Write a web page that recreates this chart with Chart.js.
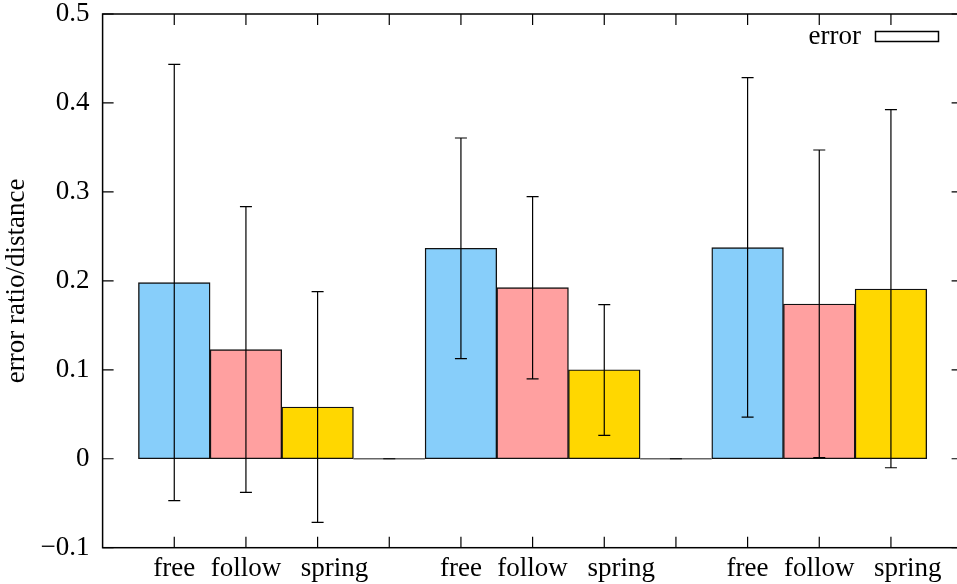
<!DOCTYPE html>
<html><head><meta charset="utf-8">
<script src="https://cdn.jsdelivr.net/npm/chart.js@4.4.0/dist/chart.umd.min.js"></script>
<style>html,body{margin:0;padding:0;overflow:hidden;background:#fff;width:957px;height:584px}canvas{display:block}</style>
</head><body><canvas id="c" width="966" height="584"></canvas>
<script>
// ---- data ----
const categories = ['free', 'follow', 'spring'];
const colorsByCategory = ['#87CEFA', '#FFA0A0', '#FFD700'];
const freeMean   = [0.198, 0.2366, 0.2373];
const freeLow    = [-0.0471, 0.1125, 0.0469];
const freeHigh   = [0.4434, 0.3606, 0.4284];
const followMean = [0.1226, 0.1923, 0.1740];
const followLow  = [-0.0378, 0.0897, 0.0012];
const followHigh = [0.2834, 0.2946, 0.3471];
const springMean = [0.0582, 0.1001, 0.1908];
const springLow  = [-0.0715, 0.0263, -0.0101];
const springHigh = [0.1878, 0.1732, 0.3924];
const yTickValues = [-0.1, 0, 0.1, 0.2, 0.3, 0.4, 0.5];
const yTickLabels = ['\u22120.1', '0', '0.1', '0.2', '0.3', '0.4', '0.5'];
const legendLabel = 'error';
const yTitle = 'error ratio/distance';

// ---- build points ----
const means = [freeMean, followMean, springMean];
const lows = [freeLow, followLow, springLow];
const highs = [freeHigh, followHigh, springHigh];
const labelPrefix = ['', '', '     ']; // reference prints "spring" slightly right of its tick
const points = [], colors = [], xTickLabels = {};
for (let g = 0; g < 3; g++) {
  for (let c = 0; c < 3; c++) {
    const x = g * 4 + c;
    points.push({x: x, y: means[c][g], lo: lows[c][g], hi: highs[c][g]});
    colors.push(colorsByCategory[c]);
    xTickLabels[x] = labelPrefix[c] + categories[c];
  }
  if (g < 2) {
    const x = g * 4 + 3;
    points.push({x: x, y: 0, lo: 0, hi: 0});
    colors.push('#FFFFFF');
    xTickLabels[x] = '';
  }
}

const FONT = "'Liberation Serif', 'DejaVu Serif', serif";
const FS = 27;
Chart.defaults.font.family = FONT;

const framePlugin = {
  id: 'frame',
  afterDatasetsDraw(chart) {
    const ctx = chart.ctx, a = chart.chartArea;
    const xs = chart.scales.x, ys = chart.scales.y;
    const meta = chart.getDatasetMeta(0);
    ctx.save();
    // zero-height bars outline
    ctx.strokeStyle = '#666';
    ctx.lineWidth = 1.4;
    points.forEach((p, i) => {
      if (p.y === 0) {
        const el = meta.data[i];
        const y0 = ys.getPixelForValue(0);
        ctx.beginPath();
        ctx.moveTo(el.x - el.width / 2, y0); ctx.lineTo(el.x + el.width / 2, y0);
        ctx.stroke();
      }
    });
    // error bars
    ctx.strokeStyle = '#000';
    ctx.lineWidth = 1.2;
    const cap = 6;
    points.forEach(p => {
      const px = xs.getPixelForValue(p.x);
      const yl = ys.getPixelForValue(p.lo), yh = ys.getPixelForValue(p.hi);
      ctx.beginPath();
      ctx.moveTo(px, yl); ctx.lineTo(px, yh);
      ctx.moveTo(px - cap, yl); ctx.lineTo(px + cap, yl);
      ctx.moveTo(px - cap, yh); ctx.lineTo(px + cap, yh);
      ctx.stroke();
    });
    // frame
    ctx.lineWidth = 1.5;
    ctx.strokeRect(a.left, a.top, a.right - a.left, a.bottom - a.top);
    // ticks
    ctx.lineWidth = 1.2;
    const tl = 11;
    ctx.beginPath();
    for (let i = 0; i <= 10; i++) {
      const px = xs.getPixelForValue(i);
      ctx.moveTo(px, a.bottom); ctx.lineTo(px, a.bottom - tl);
      ctx.moveTo(px, a.top); ctx.lineTo(px, a.top + tl);
    }
    yTickValues.forEach(v => {
      const py = ys.getPixelForValue(v);
      ctx.moveTo(a.left, py); ctx.lineTo(a.left + tl, py);
      ctx.moveTo(a.right, py); ctx.lineTo(a.right - tl, py);
    });
    ctx.stroke();
    // legend
    ctx.fillStyle = '#000';
    ctx.font = FS + 'px ' + FONT;
    ctx.textAlign = 'right';
    ctx.textBaseline = 'middle';
    ctx.fillText(legendLabel, 861, 37);
    ctx.fillStyle = '#fff';
    ctx.fillRect(875.5, 31.5, 63, 10);
    ctx.lineWidth = 1.5;
    ctx.strokeRect(875.5, 31.5, 63, 10);
    ctx.restore();
  }
};

new Chart(document.getElementById('c'), {
  type: 'bar',
  data: {
    datasets: [{
      label: legendLabel,
      data: points,
      backgroundColor: colors,
      borderColor: '#111',
      borderWidth: 1.4,
      borderSkipped: false,
      barPercentage: 1,
      categoryPercentage: 1
    }]
  },
  options: {
    responsive: false,
    animation: false,
    devicePixelRatio: 1,
    layout: {padding: {top: 14, right: 3.4, left: 0, bottom: 0}},
    plugins: {legend: {display: false}, tooltip: {enabled: false}},
    scales: {
      x: {
        type: 'linear', min: -1, max: 11, offset: false,
        grid: {display: false, drawTicks: false, offset: false},
        border: {display: false},
        ticks: {
          stepSize: 1, autoSkip: false, maxRotation: 0, minRotation: 0, padding: 5,
          color: '#000', font: {size: FS},
          callback: v => (xTickLabels[v] !== undefined ? xTickLabels[v] : '')
        },
        afterFit(s) { s.height = 36.3; s.paddingLeft = 0; s.paddingRight = 0; }
      },
      y: {
        min: -0.1, max: 0.5,
        afterBuildTicks(s) { s.ticks = yTickValues.map(v => ({value: v})); },
        grid: {display: false, drawTicks: false},
        border: {display: false},
        ticks: {
          padding: 13, color: '#000', font: {size: FS},
          callback: v => {
            const i = yTickValues.findIndex(t => Math.abs(t - v) < 1e-9);
            return i >= 0 ? yTickLabels[i] : '';
          }
        },
        title: {display: true, text: yTitle, color: '#000', font: {size: FS}, padding: {top: 1, bottom: 0}},
        afterFit(s) { s.width = 102.6; s.paddingTop = 0; s.paddingBottom = 0; }
      }
    }
  },
  plugins: [framePlugin]
});
</script>
</body></html>
